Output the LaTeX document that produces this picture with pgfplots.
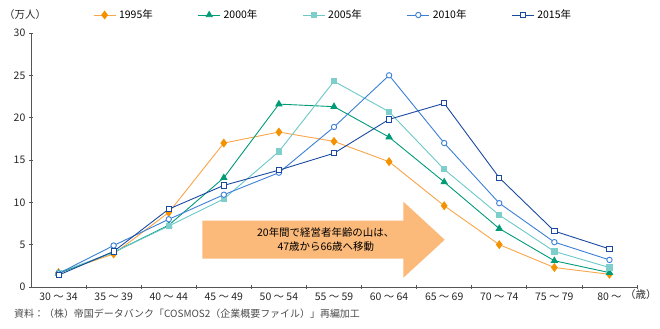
\documentclass[border=0pt]{standalone}
\usepackage{pgfplots}
\pgfplotsset{compat=1.18}
\usepackage{fontspec}
\setmainfont{Noto Sans CJK JP}
\definecolor{c95}{HTML}{F9A64A}
\definecolor{m95}{HTML}{F39200}
\definecolor{c00}{HTML}{009B77}
\definecolor{c05}{HTML}{6CC8C8}
\definecolor{m05}{HTML}{7ECFCB}
\definecolor{c10}{HTML}{3A7FD5}
\definecolor{c15}{HTML}{1A4AA0}
\definecolor{arr}{HTML}{FBB97A}
\definecolor{axc}{HTML}{555555}
\begin{document}
\begin{tikzpicture}
\fontsize{10.5}{12}\selectfont
\path[use as bounding box] (0,0) rectangle (660bp,329bp);
\begin{axis}[
  at={(31bp,42bp)}, anchor=south west,
  width=606bp, height=254bp, scale only axis,
  xmin=-0.5, xmax=10.5, ymin=0, ymax=30,
  axis lines=left, axis line style={-, draw=axc, line width=0.8pt},
  xtick={0.5,1.5,2.5,3.5,4.5,5.5,6.5,7.5,8.5,9.5,10.5},
  xticklabels={},
  x tick style={draw=axc, line width=0.8pt},
  extra x ticks={0,...,10},
  extra x tick labels={30 ～ 34,35 ～ 39,40 ～ 44,45 ～ 49,50 ～ 54,55 ～ 59,60 ～ 64,65 ～ 69,70 ～ 74,75 ～ 79,80 ～},
  extra x tick style={major tick length=0pt},
  ytick={0,5,...,30},
  y tick style={draw=axc, line width=0.8pt},
  major tick length=4bp,
  tick label style={font=\fontsize{10.5}{12}\selectfont, text=black!85},
  /pgf/number format/assume math mode=true,
  xticklabel style={yshift=-2bp},
  clip=false,
  legend columns=5,
  legend style={draw=none, fill=none, at={(62bp,272bp)}, anchor=west,
    font=\fontsize{10.5}{12}\selectfont, inner sep=0pt,
    /tikz/every even column/.append style={column sep=43bp},
    /tikz/every odd column/.append style={column sep=1bp}},
  legend image code/.code={
    \draw[#1, mark=none] (0bp,0bp) -- (22bp,0bp);
    \draw[#1, only marks] plot coordinates {(11bp,0bp)};},
]
\fill[arr] (axis cs:2.61,7.83) -- (axis cs:6.26,7.83) -- (axis cs:6.26,10.07) -- (axis cs:7.01,5.58) -- (axis cs:6.26,1.10) -- (axis cs:6.26,3.34) -- (axis cs:2.61,3.34) -- cycle;
\node[align=center, font=\fontsize{10.5}{14}\selectfont, text=black] at (axis cs:4.85,5.6) {20年間で経営者年齢の山は、\\47歳から66歳へ移動};

\addplot[c95, line width=0.9pt, mark=diamond*, mark size=3.8pt, mark options={fill=m95, draw=m95}]
coordinates {(0,1.7)(1,3.9)(2,8.8)(3,17.0)(4,18.3)(5,17.2)(6,14.8)(7,9.6)(8,5.0)(9,2.3)(10,1.5)};
\addlegendentry{1995年}
\addplot[c00, line width=0.9pt, mark=triangle*, mark size=3.5pt, mark options={fill=c00}]
coordinates {(0,1.6)(1,4.1)(2,7.3)(3,12.9)(4,21.6)(5,21.3)(6,17.7)(7,12.4)(8,6.9)(9,3.1)(10,1.7)};
\addlegendentry{2000年}
\addplot[c05, line width=0.9pt, mark=square*, mark size=2.6pt, mark options={fill=m05, draw=m05}]
coordinates {(0,1.7)(1,4.1)(2,7.2)(3,10.4)(4,16.0)(5,24.3)(6,20.7)(7,13.9)(8,8.5)(9,4.2)(10,2.3)};
\addlegendentry{2005年}
\addplot[c10, line width=0.9pt, mark=*, mark size=2.7pt, mark options={fill=white, line width=0.9pt}]
coordinates {(0,1.6)(1,4.9)(2,8.0)(3,10.9)(4,13.5)(5,18.9)(6,25.0)(7,17.0)(8,9.9)(9,5.3)(10,3.2)};
\addlegendentry{2010年}
\addplot[c15, line width=0.9pt, mark=square*, mark size=2.6pt, mark options={fill=white, line width=0.9pt}]
coordinates {(0,1.4)(1,4.2)(2,9.2)(3,12.0)(4,13.8)(5,15.8)(6,19.8)(7,21.7)(8,12.9)(9,6.6)(10,4.5)};
\addlegendentry{2015年}
\end{axis}
\node[anchor=west, text=black!85, inner sep=0pt] at (4bp,314bp) {（万人）};
\node[anchor=west, text=black!85, inner sep=0pt] at (625bp,34bp) {（歳）};
\node[anchor=west, text=black!70, inner sep=0pt, font=\fontsize{10}{12}\selectfont] at (14bp,15bp) {資料：（株）帝国データバンク「COSMOS2（企業概要ファイル）」再編加工};
\end{tikzpicture}
\end{document}
